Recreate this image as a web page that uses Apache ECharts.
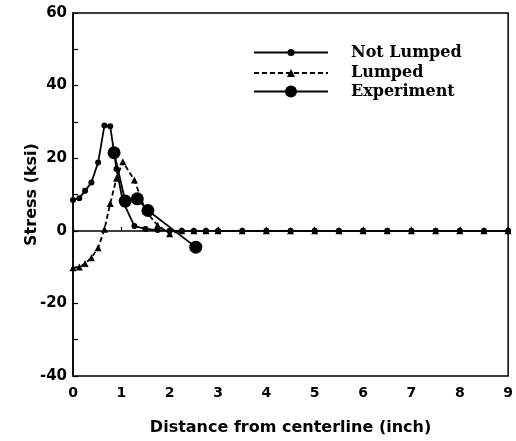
<!DOCTYPE html>
<html>
<head>
<meta charset="utf-8">
<script src="https://cdn.jsdelivr.net/npm/echarts@6/dist/echarts.min.js"></script>
<style>
  html, body { margin: 0; padding: 0; background: #fff; }
  #chart { width: 516px; height: 441px; }
</style>
</head>
<body>
<div id="chart"></div>
<script>
// node positions along the section (inch)
var nodeX = [0, 0.13, 0.25, 0.38, 0.52, 0.65, 0.77, 0.9, 1.03, 1.27, 1.5, 1.75, 2, 2.25, 2.5, 2.75, 3,
  3.5, 4, 4.5, 5, 5.5, 6, 6.5, 7, 7.5, 8, 8.5, 9];
var notLumped = [8.5, 9, 11, 13.3, 18.8, 29, 28.8, 17, 8.2, 1.3, 0.5, 0.2, 0, 0, 0, 0, 0,
  0, 0, 0, 0, 0, 0, 0, 0, 0, 0, 0, 0];
var lumped = [-10.2, -10, -9, -7.4, -4.7, 0.4, 7.5, 14.5, 19, 14, 5.5, 1.5, -0.8, 0, 0, 0, 0,
  0, 0, 0, 0, 0, 0, 0, 0, 0, 0, 0, 0];
var expX = [0.85, 1.08, 1.33, 1.55, 2.54];
var expY = [21.5, 8.2, 8.8, 5.6, -4.5];
var names = ["Not Lumped", "Lumped", "Experiment"];

function pairs(xs, ys) {
  var out = [];
  for (var i = 0; i < xs.length; i++) out.push([xs[i], ys[i]]);
  return out;
}

var SANS = "DejaVu Sans";
var SERIF = "DejaVu Serif";

// one legend per row so each icon gets its own symbol size
function legendRow(name, centerY, iconH) {
  return {
    orient: "vertical",
    left: 253,
    top: centerY - iconH / 2,
    padding: 0,
    itemWidth: 74,
    itemHeight: iconH,
    textStyle: {
      fontFamily: SERIF, fontWeight: "bold", fontSize: 16, color: "#000",
      padding: [0, 0, 0, 18]
    },
    data: [name]
  };
}

var chart = echarts.init(document.getElementById("chart"), null, { renderer: "canvas" });

var option = {
  animation: false,
  backgroundColor: "#fff",
  grid: {
    left: 73, right: 4, top: 13, bottom: 64,
    show: true, borderColor: "#000", borderWidth: 1.5
  },
  legend: [
    legendRow(names[0], 49, 9),
    legendRow(names[1], 70, 10),
    legendRow(names[2], 91, 15)
  ],
  xAxis: {
    type: "value",
    min: 0, max: 9, interval: 1,
    name: "Distance from centerline (inch)",
    nameLocation: "middle",
    nameGap: 44,
    nameMoveOverlap: false,
    nameTextStyle: { fontFamily: SANS, fontWeight: "bold", fontSize: 16, color: "#000" },
    axisLine: { lineStyle: { color: "#000", width: 1.5 } },
    axisTick: { inside: true, length: 4, lineStyle: { color: "#000", width: 1.2 } },
    axisLabel: { fontFamily: SANS, fontWeight: "bold", fontSize: 14, color: "#000", margin: 10 },
    splitLine: { show: false }
  },
  yAxis: {
    type: "value",
    min: -40, max: 60, interval: 20,
    name: "Stress (ksi)",
    nameLocation: "middle",
    nameGap: 33,
    nameMoveOverlap: false,
    nameTextStyle: { fontFamily: SANS, fontWeight: "bold", fontSize: 16, color: "#000" },
    axisLine: { show: true, lineStyle: { color: "#000", width: 1.5 } },
    axisTick: { inside: true, length: 5, lineStyle: { color: "#000", width: 1.2 } },
    minorTick: { show: true, splitNumber: 2, length: 5, lineStyle: { color: "#000", width: 1.2 } },
    axisLabel: { fontFamily: SANS, fontWeight: "bold", fontSize: 15, color: "#000", margin: 6 },
    splitLine: { show: false }
  },
  series: [
    {
      name: names[0],
      type: "line",
      data: pairs(nodeX, notLumped),
      symbol: "circle",
      symbolSize: 6,
      itemStyle: { color: "#000" },
      lineStyle: { color: "#000", width: 1.8 },
      z: 3
    },
    {
      name: names[1],
      type: "line",
      data: pairs(nodeX, lumped),
      symbol: "triangle",
      symbolSize: 7,
      itemStyle: { color: "#000" },
      lineStyle: { color: "#000", width: 1.8, type: [5, 3] },
      z: 2
    },
    {
      name: names[2],
      type: "line",
      data: pairs(expX, expY),
      symbol: "circle",
      symbolSize: 13,
      itemStyle: { color: "#000" },
      lineStyle: { color: "#000", width: 1.8 },
      z: 4
    }
  ]
};
chart.setOption(option);
</script>
</body>
</html>
